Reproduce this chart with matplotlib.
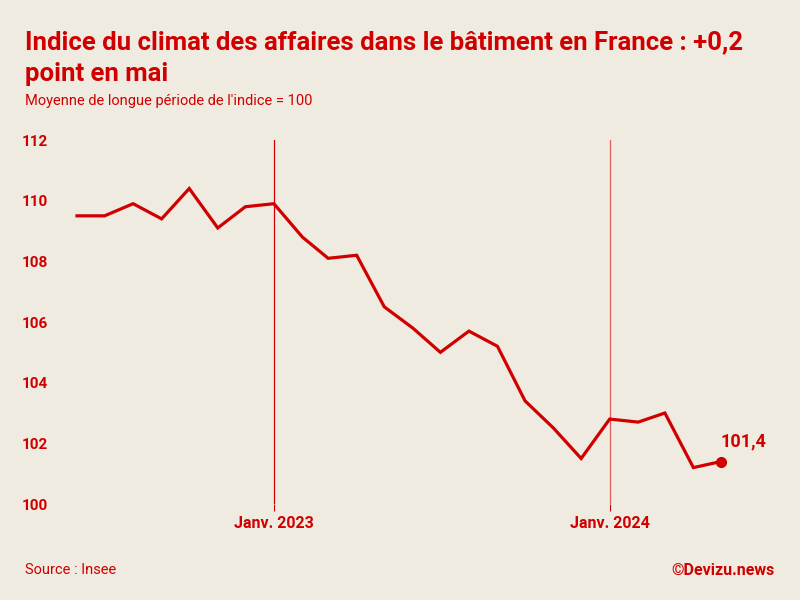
import matplotlib.pyplot as plt
import pandas as pd

# indice du climat des affaires, bâtiment, juin 2022 -> mai 2024
months = pd.date_range("2022-06-01", "2024-05-01", freq="MS")
values = [109.5, 109.5, 109.9, 109.4, 110.4, 109.1, 109.8,
          109.9, 108.8, 108.1, 108.2, 106.5, 105.8, 105.0, 105.7, 105.2, 103.4, 102.5, 101.5,
          102.8, 102.7, 103.0, 101.2, 101.4]
jan_dates = pd.to_datetime(["2023-01-01", "2024-01-01"])
jan_labels = ["Janv. 2023", "Janv. 2024"]
yticks = [100, 102, 104, 106, 108, 110, 112]

red = "#d10000"
bg = "#efebe0"
plt.rcParams['font.family'] = ["Roboto", "DejaVu Sans"]

fig = plt.figure(figsize=(8, 6), dpi=100, facecolor=bg)
ax = fig.add_axes([77/800, 96/600, 644/800, 364/600])
ax.set_facecolor(bg)

ax.plot(months, values, color=red, lw=2.3, clip_on=False, solid_joinstyle='miter', zorder=3)
ax.plot(months[-1], values[-1], 'o', color=red, ms=7, clip_on=False, zorder=4)
ax.annotate("101,4", (months[-1], values[-1]), xytext=(0, 8), textcoords='offset points',
            color=red, fontsize=13, fontweight='bold', ha='left', va='bottom')

ax.axvline(jan_dates[0], color=red, lw=0.9, zorder=1)
ax.axvline(jan_dates[1], color=red, lw=0.9, alpha=0.6, zorder=1)

ax.set_xlim(months[0], months[-1])
ax.set_ylim(100, 112)
ax.set_xticks(jan_dates)
ax.set_xticklabels(jan_labels, fontsize=11.5, fontweight='bold', color=red)
ax.set_yticks(yticks)
ax.set_yticklabels([str(v) for v in yticks], fontsize=11, fontweight='bold', color=red)
ax.tick_params(axis='x', length=5, width=0.8, color=red, pad=4)
ax.tick_params(axis='y', length=0, pad=21)
for s in ax.spines.values():
    s.set_visible(False)

fig.text(25/800, 1 - 58/600, "Indice du climat des affaires dans le bâtiment en France : +0,2\npoint en mai",
         fontsize=18.5, fontweight='bold', color=red, va='center', linespacing=1.4)
fig.text(25/800, 1 - 101/600, "Moyenne de longue période de l'indice = 100",
         fontsize=10.5, color=red, va='center')
fig.text(25/800, 1 - 570/600, "Source : Insee", fontsize=10.5, color=red, va='center')
fig.text(775/800, 1 - 570/600, "©Devizu.news", fontsize=11.5, fontweight='bold',
         color=red, va='center', ha='right')

fig.savefig("out.png", dpi=100, facecolor=bg)
